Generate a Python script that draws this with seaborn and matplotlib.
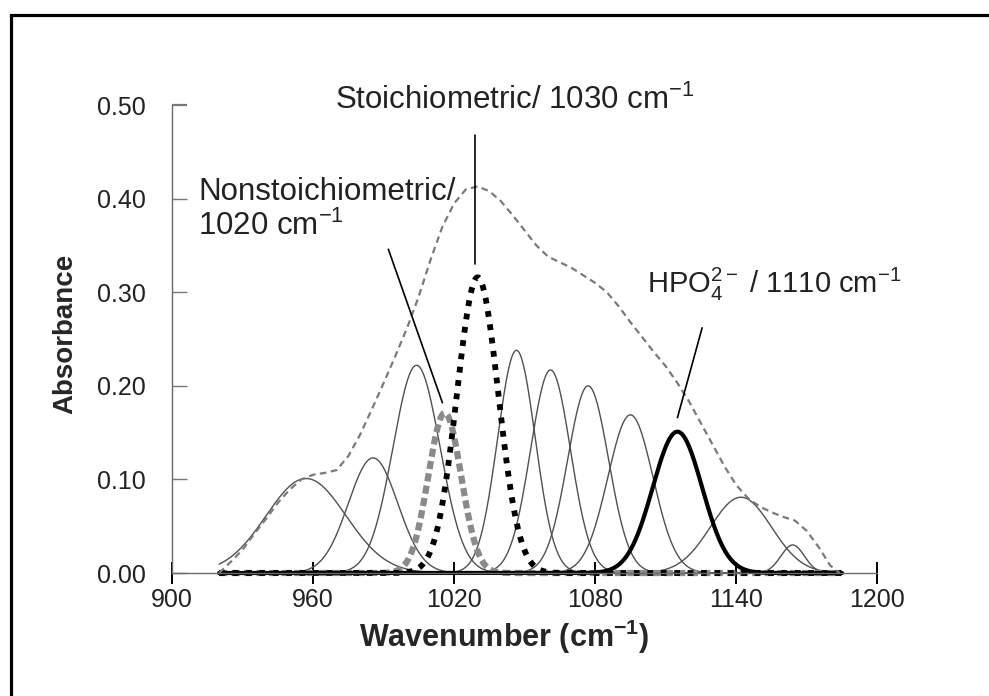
import numpy as np
import pandas as pd
import matplotlib
matplotlib.use("Agg")
import matplotlib.pyplot as plt
import seaborn as sns
from matplotlib.patches import Rectangle

# ---- data ----
# fitted component bands (Gaussian): centre (cm-1), height (absorbance), width sigma (cm-1)
peak_centers = [957, 985.5, 1004, 1016, 1030, 1046.5, 1061, 1077, 1095, 1115, 1142, 1164]
peak_heights = [0.101, 0.123, 0.222, 0.171, 0.316, 0.238, 0.217, 0.200, 0.169, 0.151, 0.081, 0.030]
peak_sigmas = [17, 10.5, 10, 7, 8.8, 8, 8.5, 8.7, 9.6, 10.5, 13, 5]
peak_roles = ["other", "other", "other", "nonstoich", "stoich", "other",
              "other", "other", "other", "hpo4", "other", "other"]
fit_range = [920, 1185]

# measured envelope spectrum
env_wn = [920, 925, 930, 935, 940, 945, 950, 955, 960, 965, 970, 975, 980, 985, 990,
          995, 1000, 1005, 1010, 1015, 1020, 1025, 1030, 1035, 1040, 1045, 1050, 1055,
          1060, 1065, 1070, 1075, 1080, 1085, 1090, 1095, 1100, 1105, 1110, 1115, 1120,
          1125, 1130, 1135, 1140, 1145, 1150, 1155, 1160, 1165, 1170, 1175, 1180, 1184]
env_abs = [0.0, 0.012, 0.025, 0.042, 0.058, 0.075, 0.089, 0.100, 0.105, 0.107, 0.110,
           0.125, 0.148, 0.175, 0.203, 0.232, 0.262, 0.296, 0.335, 0.370, 0.395, 0.410,
           0.413, 0.408, 0.397, 0.382, 0.366, 0.350, 0.338, 0.332, 0.326, 0.318, 0.310,
           0.300, 0.285, 0.268, 0.252, 0.236, 0.221, 0.203, 0.183, 0.160, 0.137, 0.114,
           0.094, 0.080, 0.071, 0.065, 0.060, 0.056, 0.045, 0.028, 0.008, 0.0]

x_ticks = [900, 960, 1020, 1080, 1140, 1200]
y_ticks = [0.0, 0.1, 0.2, 0.3, 0.4, 0.5]

# ---- build tables ----
grid = np.linspace(fit_range[0], fit_range[1], 800)
rows = []
for i, (c, h, s, r) in enumerate(zip(peak_centers, peak_heights, peak_sigmas, peak_roles)):
    y = h * np.exp(-0.5 * ((grid - c) / s) ** 2)
    rows.append(pd.DataFrame({"wn": grid, "abs": y, "peak": i, "role": r}))
comp = pd.concat(rows, ignore_index=True)
env = pd.DataFrame({"wn": env_wn, "abs": env_abs})

# ---- style ----
sns.set_style("white")
plt.rcParams["font.family"] = ["Liberation Sans", "DejaVu Sans"]
plt.rcParams["mathtext.fontset"] = "custom"
plt.rcParams["mathtext.rm"] = "Liberation Sans"
plt.rcParams["mathtext.it"] = "Liberation Sans:italic"
plt.rcParams["mathtext.bf"] = "Liberation Sans:bold"

fig = plt.figure(figsize=(9.89, 6.96), dpi=100)
ax = fig.add_axes([0.174, 0.1767, 0.713, 0.6723])

style = {
    "other": dict(color="#505050", lw=1.0, ls="-"),
    "nonstoich": dict(color="#8a8a8a", lw=4.5, ls=(0, (1.3, 0.7))),
    "stoich": dict(color="black", lw=4.2, ls=(0, (1.0, 1.3))),
    "hpo4": dict(color="black", lw=3.0, ls="-"),
}
for role in ["other", "nonstoich", "stoich", "hpo4"]:
    sub = comp[comp["role"] == role]
    for pid, d in sub.groupby("peak"):
        st = style[role]
        sns.lineplot(data=d, x="wn", y="abs", ax=ax, color=st["color"], lw=st["lw"],
                     linestyle=st["ls"], estimator=None, sort=False, legend=False,
                     clip_on=False)

sns.lineplot(data=env, x="wn", y="abs", ax=ax, color="#7a7a7a", lw=1.6,
             linestyle=(0, (3, 2)), estimator=None, sort=False, legend=False,
             clip_on=False)

ax.set_xlim(900, 1200)
ax.set_ylim(0, 0.5)
ax.set_xticks(x_ticks)
ax.set_yticks(y_ticks)
ax.set_yticklabels([f"{v:.2f}" for v in y_ticks])
for sp in ["top", "right"]:
    ax.spines[sp].set_visible(False)
ax.spines["left"].set_color("#6a6a6a")
ax.spines["bottom"].set_color("#6a6a6a")
ax.spines["left"].set_linewidth(1.0)
ax.spines["bottom"].set_linewidth(1.0)
ax.tick_params(axis="x", bottom=True, direction="inout", length=16, width=1.4,
               color="black", labelsize=18, pad=3, labelcolor="#222222")
ax.tick_params(axis="y", left=True, direction="in", length=11, width=1.0,
               color="#777777", labelsize=18, pad=19, labelcolor="#222222")
ax.yaxis.get_major_ticks()[-1].tick1line.set_color("black")
ax.yaxis.get_major_ticks()[-1].tick1line.set_markeredgewidth(1.6)

ax.set_xlabel(r"Wavenumber (cm$^{\mathbf{-1}}$)", fontsize=22, fontweight="bold")
ax.xaxis.set_label_coords((504 - 172) / 705, -(637 - 573) / 468)
ax.xaxis.label.set_va("center")
ax.set_ylabel("Absorbance", fontsize=20, fontweight="bold")
ax.yaxis.set_label_coords(-(172 - 65) / 705, (573 - 334) / 468)
ax.yaxis.label.set_va("center")

# annotations
ax.text(1046, 0.505, r"Stoichiometric/ 1030 cm$^{-1}$", fontsize=22.5,
        ha="center", va="center", color="#222222", clip_on=False)
ax.plot([1029, 1029], [0.468, 0.33], color="black", lw=1.2)

ax.text(911, 0.407, "Nonstoichiometric/", fontsize=22.5, ha="left", va="center",
        color="#222222")
ax.text(911, 0.37, r"1020 cm$^{-1}$", fontsize=22.5, ha="left", va="center",
        color="#222222")
ax.plot([992, 1015], [0.346, 0.182], color="black", lw=1.2)

ax.text(1102, 0.308, r"HPO$_4^{2-}$ / 1110 cm$^{-1}$", fontsize=21, ha="left",
        va="center", color="#222222")
ax.plot([1125.5, 1115], [0.262, 0.166], color="black", lw=1.2)

# outer frame (open at right/bottom as in the reference crop)
fig.patches.append(Rectangle((11 / 989, -0.2), 1.5, 0.2 + (1 - 15 / 696),
                             transform=fig.transFigure, fill=False,
                             edgecolor="black", lw=2.3))

fig.savefig("out.png", dpi=100)
